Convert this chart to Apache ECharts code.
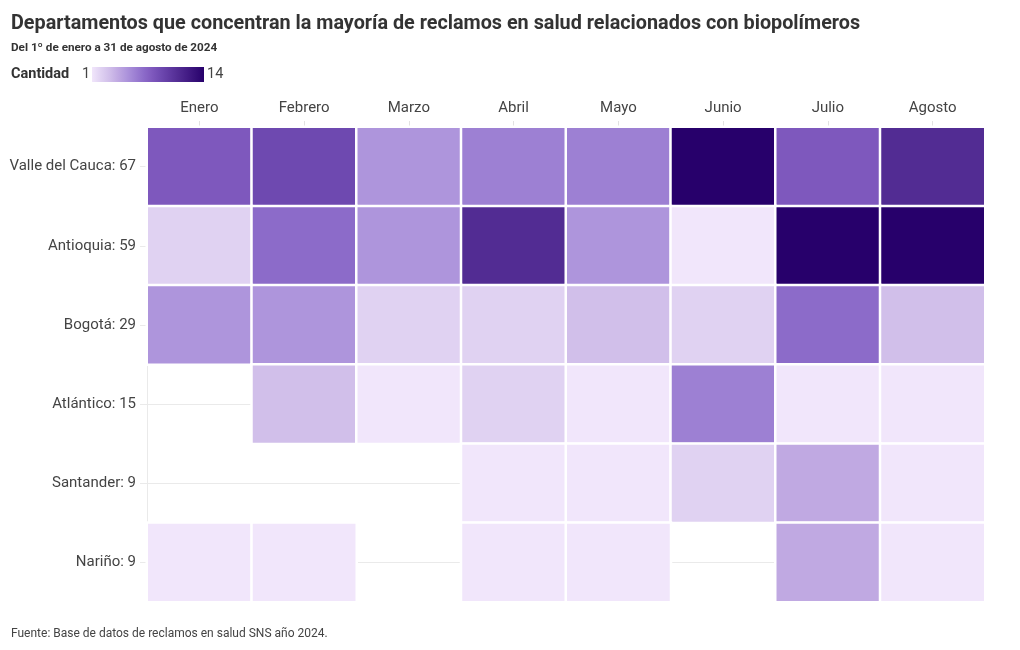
<!DOCTYPE html>
<html>
<head>
<meta charset="utf-8">
<script src="https://cdn.jsdelivr.net/npm/echarts@6/dist/echarts.min.js"></script>
<style>
html,body{margin:0;padding:0;background:#fff;}
#chart{width:1020px;height:650px;}
</style>
</head>
<body>
<div id="chart"></div>
<script>
var months = ['Enero','Febrero','Marzo','Abril','Mayo','Junio','Julio','Agosto'];
var departments = ['Valle del Cauca','Antioquia','Bogotá','Atlántico','Santander','Nariño'];
var totals = [67, 59, 29, 15, 9, 9];
var valle     = [8, 9, 5, 6, 6, 14, 8, 11];
var antioquia = [2, 7, 5, 11, 5, 1, 14, 14];
var bogota    = [5, 5, 2, 2, 3, 2, 7, 3];
var atlantico = [null, 3, 1, 2, 1, 6, 1, 1];
var santander = [null, null, null, 1, 1, 2, 4, 1];
var narino    = [1, 1, null, 1, 1, null, 4, 1];
var rows = [valle, antioquia, bogota, atlantico, santander, narino];
var scaleMin = 1, scaleMax = 14;
var scaleColors = ['#f1e6fb','#e0d2f2','#d1bfea','#c0a9e2','#ae95dc','#9d80d3','#8c6bc9',
                   '#7e58bd','#6e49b0','#603aa2','#522c93','#441d86','#350f78','#27006b'];

var yLabels = departments.map(function(d, i){ return d + ': ' + totals[i]; });
var data = [];
rows.forEach(function(r, yi){
  r.forEach(function(v, xi){
    if (v !== null && v !== undefined) data.push([xi, yi, v]);
  });
});

var gradStops = scaleColors.map(function(c, i){ return { offset: i / (scaleColors.length - 1), color: c }; });

var FONT = 'Roboto';
var chart = echarts.init(document.getElementById('chart'), null, {renderer:'canvas'});
chart.setOption({
  backgroundColor: '#ffffff',
  animation: false,
  textStyle: { fontFamily: FONT },
  title: [
    { text: 'Departamentos que concentran la mayoría de reclamos en salud relacionados con biopolímeros',
      left: 11, top: 14, padding: 0,
      textStyle: { fontFamily: FONT, fontSize: 19.8, fontWeight: 'bold', color: '#333' } },
    { text: 'Del 1º de enero a 31 de agosto de 2024',
      left: 11, top: 42, padding: 0,
      textStyle: { fontFamily: FONT, fontSize: 11.7, fontWeight: 'bold', color: '#333' } },
    { text: 'Fuente: Base de datos de reclamos en salud SNS año 2024.',
      left: 11, top: 628, padding: 0,
      textStyle: { fontFamily: FONT, fontSize: 12, fontWeight: 'normal', color: '#444' } }
  ],
  graphic: [
    { type: 'text', left: 11, top: 67,
      style: { text: 'Cantidad', font: 'bold 14.5px ' + FONT, fill: '#333' } },
    { type: 'text', left: 82, top: 67,
      style: { text: String(scaleMin), font: '14.5px ' + FONT, fill: '#444' } },
    { type: 'rect', shape: { x: 92, y: 67, width: 112, height: 15 },
      style: { fill: new echarts.graphic.LinearGradient(0, 0, 1, 0, gradStops) } },
    { type: 'text', left: 207, top: 67,
      style: { text: String(scaleMax), font: '14.5px ' + FONT, fill: '#444' } }
  ],
  grid: { left: 147, right: 35, top: 127, bottom: 48 },
  visualMap: {
    type: 'continuous',
    show: false,
    min: scaleMin, max: scaleMax,
    inRange: { color: scaleColors },
    seriesIndex: 0
  },
  xAxis: {
    type: 'category',
    position: 'top',
    data: months,
    axisLine: { show: false },
    axisTick: { show: true, alignWithLabel: true, length: 6, lineStyle: { color: '#e2e2e2' } },
    axisLabel: { fontFamily: FONT, fontSize: 15, color: '#444', margin: 11 },
    splitLine: { show: false }
  },
  yAxis: [
    {
      type: 'category',
      data: yLabels,
      inverse: true,
      position: 'left',
      axisLine: { show: true, lineStyle: { color: '#eaeaea' } },
      axisTick: { show: true, alignWithLabel: true, length: 7, lineStyle: { color: '#eaeaea' } },
      axisLabel: { fontFamily: FONT, fontSize: 15, color: '#444', margin: 11 },
      splitLine: { show: false }
    },
    {
      type: 'category',
      data: yLabels,
      inverse: true,
      position: 'right',
      axisLine: { show: false },
      axisTick: { show: true, alignWithLabel: true, inside: true, length: 838, lineStyle: { color: '#eaeaea' } },
      axisLabel: { show: false },
      splitLine: { show: false }
    }
  ],
  series: [{
    type: 'heatmap',
    data: data,
    xAxisIndex: 0,
    yAxisIndex: 0,
    itemStyle: { borderColor: '#ffffff', borderWidth: 2.5 },
    label: { show: false },
    emphasis: { disabled: true }
  }]
});
</script>
</body>
</html>
